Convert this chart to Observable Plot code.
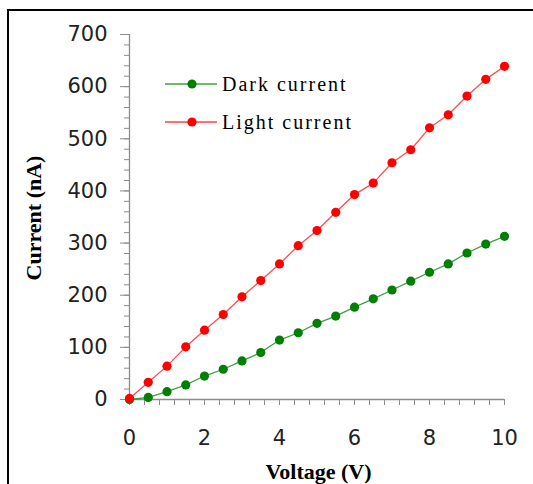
<!DOCTYPE html>
<html>
<head>
<meta charset="utf-8">
<script src="https://cdn.jsdelivr.net/npm/d3@7"></script>
<script src="https://cdn.jsdelivr.net/npm/@observablehq/plot@0.6"></script>
<style>
  html, body { margin: 0; padding: 0; background: #fff; overflow: hidden; }
  #wrap { position: relative; width: 533px; height: 484px; overflow: hidden; }
  #frame { position: absolute; left: 7px; top: 9px; width: 700px; height: 700px;
           border-top: 2.5px solid #000; border-left: 2.5px solid #000; }
  #chart { position: absolute; left: 0; top: 0; }
  #legend { position: absolute; left: 0; top: 0; pointer-events: none; }
</style>
</head>
<body>
<div id="wrap">
  <div id="frame"></div>
  <div id="chart"></div>
  <svg id="legend" width="533" height="484"></svg>
</div>
<script>
// ---- data ----
const voltage = [0, 0.5, 1, 1.5, 2, 2.5, 3, 3.5, 4, 4.5, 5, 5.5, 6, 6.5, 7, 7.5, 8, 8.5, 9, 9.5, 10];
const darkCurrent = [0, 4, 15, 28, 45, 58, 74, 90, 114, 128, 146, 160, 177, 193, 210, 227, 244, 260, 281, 298, 313];
const lightCurrent = [2, 33, 64, 101, 133, 163, 197, 228, 260, 295, 324, 359, 393, 415, 454, 479, 521, 546, 582, 614, 639];
const seriesNames = ["Dark current", "Light current"];
const seriesColors = ["#008000", "#ff0000"];
const xTickLabels = [0, 2, 4, 6, 8, 10];
const xMinorTicks = [0, 0.4, 0.8, 1.2, 1.6, 2, 2.4, 2.8, 3.2, 3.6, 4, 4.4, 4.8, 5.2, 5.6, 6, 6.4, 6.8, 7.2, 7.6, 8, 8.4, 8.8, 9.2, 9.6, 10];
const yTickLabels = [0, 100, 200, 300, 400, 500, 600, 700];
const xTitle = "Voltage (V)";
const yTitle = "Current (nA)";

const dark = voltage.map((v, i) => ({v, c: darkCurrent[i]}));
const light = voltage.map((v, i) => ({v, c: lightCurrent[i]}));
const yMinorTicks = d3.range(0, 701, 20);

const axisGray = "#8c8c8c";
const serif = "'Liberation Serif', 'Times New Roman', serif";

const chart = Plot.plot({
  width: 533,
  height: 484,
  marginLeft: 129,
  marginRight: 29,
  marginTop: 34,
  marginBottom: 85,
  x: {domain: [0, 10]},
  y: {domain: [0, 700]},
  style: {fontFamily: "'DejaVu Sans', Verdana, sans-serif", fontSize: "21px", color: "#222", background: "transparent", overflow: "visible"},
  marks: [
    Plot.ruleX([0], {stroke: axisGray, strokeWidth: 1.3}),
    Plot.ruleY([0], {stroke: axisGray, strokeWidth: 1.3}),
    Plot.axisY({ticks: yMinorTicks, tickSize: 5, tickFormat: () => "", stroke: axisGray, label: null}),
    Plot.axisY({ticks: yTickLabels, tickSize: 9, tickPadding: 13, stroke: axisGray, fill: "#222", label: null}),
    Plot.axisX({ticks: xMinorTicks, tickSize: 6, tickFormat: () => "", stroke: axisGray, label: null}),
    Plot.axisX({ticks: xTickLabels, tickSize: 0, tickPadding: 31, fill: "#222", label: null}),
    Plot.line(dark, {x: "v", y: "c", stroke: seriesColors[0], strokeWidth: 1.3, strokeOpacity: 0.75}),
    Plot.dot(dark, {x: "v", y: "c", r: 4.6, fill: seriesColors[0], stroke: "none"}),
    Plot.line(light, {x: "v", y: "c", stroke: seriesColors[1], strokeWidth: 1.3, strokeOpacity: 0.7}),
    Plot.dot(light, {x: "v", y: "c", r: 4.6, fill: seriesColors[1], stroke: "none"}),
    Plot.text([yTitle], {text: d => d, frameAnchor: "left", rotate: -90, dx: -96, dy: 1,
      fontFamily: serif, fontWeight: "bold", fontSize: 22, fill: "#000", textAnchor: "middle", lineAnchor: "middle"}),
    Plot.text([xTitle], {text: d => d, frameAnchor: "bottom", dy: 72, dx: 1.5,
      fontFamily: serif, fontWeight: "bold", fontSize: 22, fill: "#000", textAnchor: "middle", lineAnchor: "middle",
      letterSpacing: 0.6})
  ]
});
document.getElementById("chart").appendChild(chart);

// ---- legend (inside plot area, upper left) ----
const legend = d3.select("#legend");
seriesNames.forEach((name, i) => {
  const y = 84 + i * 38;
  const g = legend.append("g");
  g.append("line").attr("x1", 165).attr("x2", 217).attr("y1", y).attr("y2", y)
    .attr("stroke", seriesColors[i]).attr("stroke-width", 1.3).attr("stroke-opacity", 0.75);
  g.append("circle").attr("cx", 192).attr("cy", y).attr("r", 4.6).attr("fill", seriesColors[i]);
  g.append("text").attr("x", 222).attr("y", y + 6.5).text(name)
    .attr("font-family", serif).attr("font-size", 20).attr("letter-spacing", 2).attr("fill", "#000");
});
</script>
</body>
</html>
